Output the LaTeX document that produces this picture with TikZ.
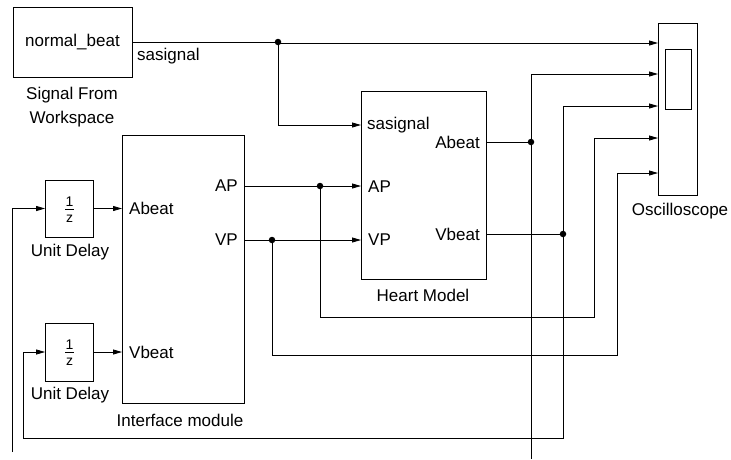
\documentclass[tikz,border=0pt]{standalone}
\usepackage{fontspec}
\setmainfont{Liberation Sans}
\usetikzlibrary{arrows.meta,calc}
\begin{document}
\begin{tikzpicture}[x=1pt,y=-1pt,
  font=\fontsize{17}{24}\selectfont,
  blk/.style={draw, line width=0.8pt, inner sep=0pt, rectangle},
  wire/.style={line width=0.8pt},
  arr/.style={wire,-{Triangle[length=9pt,width=5pt]}},
  jdot/.style={circle, fill, inner sep=0pt, minimum size=6.5pt},
  lbl/.style={inner sep=0pt},
  frac/.style={inner sep=0pt, font=\fontsize{14}{16}\selectfont}]
\useasboundingbox (0,0) rectangle (731,459);

% blocks
\node[blk, minimum width=119pt, minimum height=70pt] (sfw) at (72.5,42) {normal\_beat};
\node[lbl, align=center] (sfwl) at (72,107) {Signal From\\Workspace};

\node[blk, minimum width=122pt, minimum height=268pt] (im) at (183,269) {};
\node[lbl] (imA) at (129,208) [anchor=west] {Abeat};
\node[lbl] (imV) at (129,352) [anchor=west] {Vbeat};
\node[lbl] (imAP) at (238,186) [anchor=east] {AP};
\node[lbl] (imVP) at (238,240) [anchor=east] {VP};
\node[lbl] (iml) at (180,420) {Interface module};

\node[blk, minimum width=125pt, minimum height=188pt] (hm) at (423.5,185) {};
\node[lbl, anchor=west] (hms) at (367,125) {sasignal};
\node[lbl, anchor=west] (hmap) at (368,187) {AP};
\node[lbl, anchor=west] (hmvp) at (368,240) {VP};
\node[lbl, anchor=east] (hma) at (480,142) {Abeat};
\node[lbl, anchor=east] (hmv) at (480,234) {Vbeat};
\node[lbl] (hml) at (423,295) {Heart Model};

\node[blk, minimum width=39pt, minimum height=172pt] (sc) at (677.5,109) {};
\node[blk, minimum width=26pt, minimum height=60pt] (scr) at (678,79) {};
\node[lbl] (scl) at (680,211) {Oscilloscope};

\node[blk, minimum width=48pt, minimum height=57pt] (ud1) at (69.5,208.5) {};
\node[frac] (ud1n) at ($(ud1.center)+(0,-7)$) {1};
\node[frac] (ud1d) at ($(ud1.center)+(0,10)$) {z};
\draw[line width=0.7pt] ($(ud1.center)+(-4.5,0.5)$) -- ($(ud1.center)+(4.5,0.5)$);
\node[lbl] (ud1l) at (70,252) {Unit Delay};

\node[blk, minimum width=48pt, minimum height=58pt] (ud2) at (69.5,352) {};
\node[frac] (ud2n) at ($(ud2.center)+(0,-7)$) {1};
\node[frac] (ud2d) at ($(ud2.center)+(0,10)$) {z};
\draw[line width=0.7pt] ($(ud2.center)+(-4.5,0.5)$) -- ($(ud2.center)+(4.5,0.5)$);
\node[lbl] (ud2l) at (70,395) {Unit Delay};

\node[lbl, anchor=west] (sal) at (137,56) {sasignal};

% ports and junctions
\coordinate (sfwO) at (132,42);
\coordinate (j1) at (278,42);
\coordinate (j1b) at (278,125);
\coordinate (hmS) at (361,125);
\coordinate (hmAP) at (361,186);
\coordinate (hmVP) at (361,240);
\coordinate (hmA) at (486,142);
\coordinate (hmV) at (486,234);
\coordinate (imAPo) at (244,186);
\coordinate (imVPo) at (244,240);
\coordinate (imAi) at (122,208.5);
\coordinate (imVi) at (122,352);
\coordinate (j2) at (320,186);
\coordinate (j3) at (272,240);
\coordinate (j4) at (531,142);
\coordinate (j5) at (563,234);
\coordinate (s1) at (658,43);
\coordinate (s2) at (658,74);
\coordinate (s3) at (658,106);
\coordinate (s4) at (658,138);
\coordinate (s5) at (658,173);
\coordinate (endA) at (531,459);
\coordinate (endL) at (12,452);

% wires
\draw[arr] (sfwO) -- (j1) -- (j1 |- s1) -- (s1);
\draw[arr] (j1) -- (j1b) -- (hmS);
\draw[arr] (imAPo) -- (hmAP);
\draw[arr] (imVPo) -- (hmVP);
\draw[arr] (j2) -- (320,317) -- (594,317) -- (594,138) -- (s4);
\draw[arr] (j3) -- (272,355) -- (617,355) -- (617,173) -- (s5);
\draw[wire] (hmA) -- (j4) -- (endA);
\draw[arr] (j4) -- (531,74) -- (s2);
\draw[wire] (hmV) -- (j5);
\draw[arr] (j5) -- (563,106) -- (s3);
\draw[arr] (j5) -- (563,438) -- (23,438) -- (23,352) -- (ud2.west);
\draw[arr] (endL) -- (12,208.5) -- (ud1.west);
\draw[arr] (ud1.east) -- (imAi);
\draw[arr] (ud2.east) -- (imVi);

% junction dots
\foreach \j in {j1,j2,j3,j4,j5} \node[jdot] at (\j) {};
\end{tikzpicture}
\end{document}
